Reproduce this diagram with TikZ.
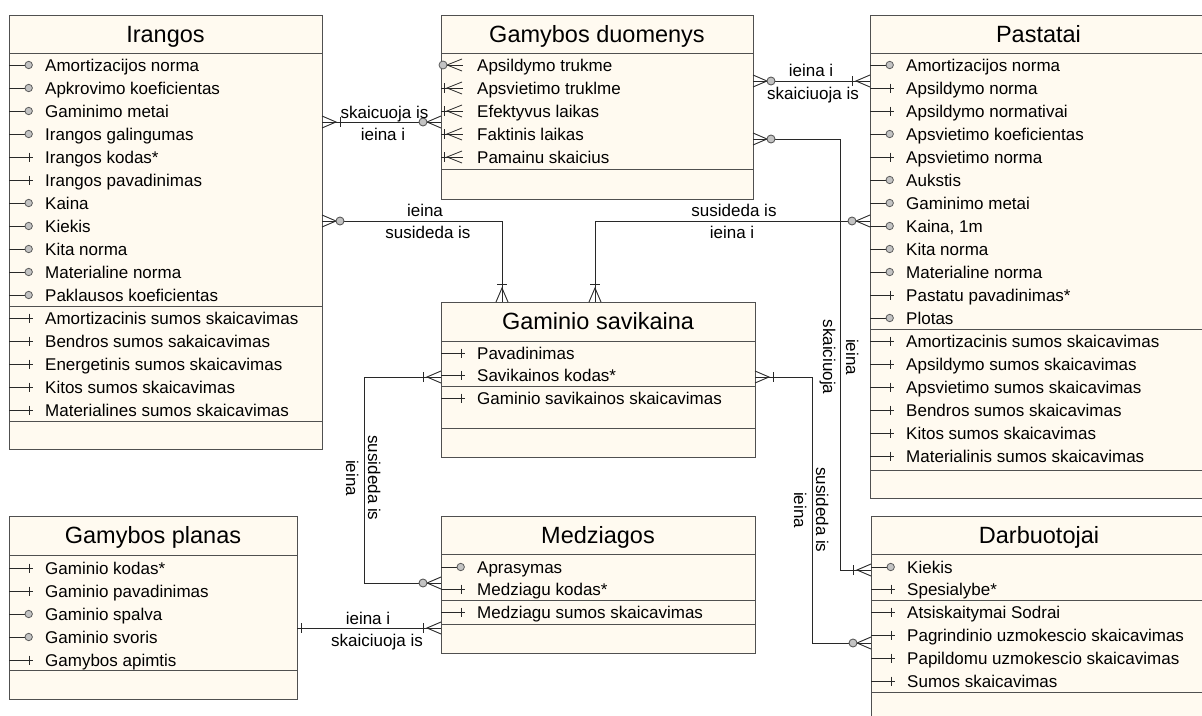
\documentclass[tikz,border=0pt]{standalone}
\usepackage{fontspec}
\setmainfont{Liberation Sans}
\definecolor{cream}{RGB}{255,250,240}
\definecolor{bordc}{RGB}{80,80,80}
\definecolor{circf}{RGB}{195,195,195}
\definecolor{circd}{RGB}{90,90,90}
\definecolor{linec}{RGB}{40,40,40}
\tikzset{
  box/.style={draw=bordc, fill=cream, line width=1pt, rectangle, anchor=north west, inner sep=0pt, outer sep=0pt},
  sepl/.style={draw=bordc, line width=0.9pt},
  ttl/.style={font=\fontsize{23.5}{28}\selectfont, anchor=base, inner sep=0pt},
  attr/.style={font=\fontsize{17}{20}\selectfont, anchor=base west, inner sep=0pt},
  lbl/.style={font=\fontsize{17}{20}\selectfont, anchor=base, inner sep=0pt},
  mk/.style={draw=linec, line width=0.8pt},
  conn/.style={draw=linec, line width=0.9pt},
  crowf/.pic={\draw[conn] (0,-6) -- (14,0) -- (0,6);},
  onebar/.pic={\draw[conn] (18,-5) -- (18,5);},
  nearbar/.pic={\draw[conn] (4.5,-5) -- (4.5,5);},
  zerocirc/.pic={\draw[conn, draw=circd, fill=circf] (18,0) circle[radius=4];}
}
% optional attribute: circle marker
\newcommand\attO[4]{%
  \draw[mk] (#2,#3) -- ++(16,0);
  \draw[mk, draw=circd, fill=circf] ({#2+19.7},#3) circle[radius=3.7];
  \node[attr] (#1) at ({#2+36},{#3+6}) {#4};}
% key / mandatory attribute: bar marker
\newcommand\attK[4]{%
  \draw[mk] (#2,#3) -- ++(24,0);
  \draw[mk] ({#2+20},{#3-4.5}) -- ++(0,9);
  \node[attr] (#1) at ({#2+36},{#3+6}) {#4};}
% circle + crow
\newcommand\attOC[4]{%
  \draw[mk] (#2,#3) -- ++(22,0);
  \draw[mk] ({#2+21},{#3-6}) -- ({#2+6},#3) -- ({#2+21},{#3+6});
  \draw[mk, draw=circd, fill=circf] ({#2+2},#3) circle[radius=4];
  \node[attr] (#1) at ({#2+36},{#3+6}) {#4};}
% bar + crow
\newcommand\attKC[4]{%
  \draw[mk] (#2,#3) -- ++(22,0);
  \draw[mk] ({#2+21},{#3-6}) -- ({#2+6},#3) -- ({#2+21},{#3+6});
  \draw[mk] ({#2+3},{#3-5}) -- ++(0,10);
  \node[attr] (#1) at ({#2+36},{#3+6}) {#4};}
\begin{document}
\begin{tikzpicture}[x=1pt,y=-1pt]
\useasboundingbox (0,0) rectangle (1202,715);
\fill[white] (0,0) rectangle (1202,715);
\clip (0,0) rectangle (1202,715);

% ---------------- Irangos
\node[box, minimum width=313pt, minimum height=434pt] (ir) at (9,15) {};
\node[ttl] (irt) at (165.5,42) {Irangos};
\draw[sepl] (9,53) -- (322,53);
\attO{ir1}{9}{65}{Amortizacijos norma}
\attO{ir2}{9}{88}{Apkrovimo koeficientas}
\attO{ir3}{9}{111}{Gaminimo metai}
\attO{ir4}{9}{134}{Irangos galingumas}
\attK{ir5}{9}{157}{Irangos kodas*}
\attK{ir6}{9}{180}{Irangos pavadinimas}
\attO{ir7}{9}{203}{Kaina}
\attO{ir8}{9}{226}{Kiekis}
\attO{ir9}{9}{249}{Kita norma}
\attO{ir10}{9}{272}{Materialine norma}
\attO{ir11}{9}{295}{Paklausos koeficientas}
\draw[sepl] (9,306) -- (322,306);
\attK{ir12}{9}{318}{Amortizacinis sumos skaicavimas}
\attK{ir13}{9}{341}{Bendros sumos sakaicavimas}
\attK{ir14}{9}{364}{Energetinis sumos skaicavimas}
\attK{ir15}{9}{387}{Kitos sumos skaicavimas}
\attK{ir16}{9}{410}{Materialines sumos skaicavimas}
\draw[sepl] (9,421) -- (322,421);

% ---------------- Gamybos duomenys
\node[box, minimum width=312pt, minimum height=184pt] (gd) at (441,15) {};
\node[ttl] (gdt) at (597,42) {Gamybos duomenys};
\draw[sepl] (441,53) -- (753,53);
\attOC{gd1}{441}{65}{Apsildymo trukme}
\attKC{gd2}{441}{88}{Apsvietimo truklme}
\attKC{gd3}{441}{111}{Efektyvus laikas}
\attKC{gd4}{441}{134}{Faktinis laikas}
\attKC{gd5}{441}{157}{Pamainu skaicius}
\draw[sepl] (441,169) -- (753,169);

% ---------------- Pastatai
\node[box, minimum width=337pt, minimum height=483pt] (pa) at (870,15) {};
\node[ttl] (pat) at (1038.5,42) {Pastatai};
\draw[sepl] (870,53) -- (1207,53);
\attO{pa1}{870}{65}{Amortizacijos norma}
\attK{pa2}{870}{88}{Apsildymo norma}
\attK{pa3}{870}{111}{Apsildymo normativai}
\attO{pa4}{870}{134}{Apsvietimo koeficientas}
\attK{pa5}{870}{157}{Apsvietimo norma}
\attO{pa6}{870}{180}{Aukstis}
\attO{pa7}{870}{203}{Gaminimo metai}
\attO{pa8}{870}{226}{Kaina, 1m}
\attO{pa9}{870}{249}{Kita norma}
\attO{pa10}{870}{272}{Materialine norma}
\attK{pa11}{870}{295}{Pastatu pavadinimas*}
\attO{pa12}{870}{318}{Plotas}
\draw[sepl] (870,329) -- (1207,329);
\attK{pa13}{870}{341}{Amortizacinis sumos skaicavimas}
\attK{pa14}{870}{364}{Apsildymo sumos skaicavimas}
\attK{pa15}{870}{387}{Apsvietimo sumos skaicavimas}
\attK{pa16}{870}{410}{Bendros sumos skaicavimas}
\attK{pa17}{870}{433}{Kitos sumos skaicavimas}
\attK{pa18}{870}{456}{Materialinis sumos skaicavimas}
\draw[sepl] (870,470) -- (1207,470);

% ---------------- Gaminio savikaina
\node[box, minimum width=314pt, minimum height=155pt] (gs) at (441,302) {};
\node[ttl] (gst) at (598,329) {Gaminio savikaina};
\draw[sepl] (441,341) -- (755,341);
\attK{gs1}{441}{353}{Pavadinimas}
\attK{gs2}{441}{375}{Savikainos kodas*}
\draw[sepl] (441,386) -- (755,386);
\attK{gs3}{441}{398}{Gaminio savikainos skaicavimas}
\draw[sepl] (441,428) -- (755,428);

% ---------------- Gamybos planas
\node[box, minimum width=288pt, minimum height=183pt] (gp) at (9,516) {};
\node[ttl] (gpt) at (153,543) {Gamybos planas};
\draw[sepl] (9,555) -- (297,555);
\attK{gp1}{9}{568}{Gaminio kodas*}
\attK{gp2}{9}{591}{Gaminio pavadinimas}
\attO{gp3}{9}{614}{Gaminio spalva}
\attO{gp4}{9}{637}{Gaminio svoris}
\attK{gp5}{9}{660}{Gamybos apimtis}
\draw[sepl] (9,670) -- (297,670);

% ---------------- Medziagos
\node[box, minimum width=314pt, minimum height=137pt] (me) at (441,516) {};
\node[ttl] (met) at (598,543) {Medziagos};
\draw[sepl] (441,554) -- (755,554);
\attO{me1}{441}{567}{Aprasymas}
\attK{me2}{441}{589}{Medziagu kodas*}
\draw[sepl] (441,600) -- (755,600);
\attK{me3}{441}{612}{Medziagu sumos skaicavimas}
\draw[sepl] (441,624) -- (755,624);

% ---------------- Darbuotojai
\node[box, minimum width=336pt, minimum height=214pt] (da) at (871,516) {};
\node[ttl] (dat) at (1039,543) {Darbuotojai};
\draw[sepl] (871,554) -- (1207,554);
\attO{da1}{871}{567}{Kiekis}
\attK{da2}{871}{589}{Spesialybe*}
\draw[sepl] (871,600) -- (1207,600);
\attK{da3}{871}{612}{Atsiskaitymai Sodrai}
\attK{da4}{871}{635}{Pagrindinio uzmokescio skaicavimas}
\attK{da5}{871}{658}{Papildomu uzmokescio skaicavimas}
\attK{da6}{871}{681}{Sumos skaicavimas}
\draw[sepl] (871,692) -- (1207,692);

% ================= connectors
% 1 Irangos -- Gamybos duomenys
\coordinate (c1a) at (322,122);
\coordinate (c1b) at (441,122);
\draw[conn] (c1a) -- (c1b);
\pic at (c1a) {crowf}; \pic at (c1a) {onebar};
\pic[rotate=180] at (c1b) {crowf}; \pic[rotate=180] at (c1b) {zerocirc};
\node[lbl] (l1a) at (384.5,118) {skaicuoja is};
\node[lbl] (l1b) at (383,140) {ieina i};

% 2 Gamybos duomenys -- Pastatai
\coordinate (c2a) at (753,81);
\coordinate (c2b) at (870,81);
\draw[conn] (c2a) -- (c2b);
\pic at (c2a) {crowf}; \pic at (c2a) {zerocirc};
\pic[rotate=180] at (c2b) {crowf}; \pic[rotate=180] at (c2b) {onebar};
\node[lbl] (l2a) at (811,76) {ieina i};
\node[lbl] (l2b) at (813,99) {skaiciuoja is};

% 3 Gamybos duomenys -- Darbuotojai
\coordinate (c3a) at (753,139);
\coordinate (c3b) at (871,570);
\draw[conn] (c3a) -- (840,139) -- (840,570) -- (c3b);
\pic at (c3a) {crowf}; \pic at (c3a) {zerocirc};
\pic[rotate=180] at (c3b) {crowf}; \pic[rotate=180] at (c3b) {onebar};
\node[lbl, rotate=-90] (l3a) at (823,357) {skaiciuoja};
\node[lbl, rotate=-90] (l3b) at (846,357) {ieina};

% 4 Gaminio savikaina -- Darbuotojai
\coordinate (c4a) at (755,377);
\coordinate (c4b) at (871,643);
\draw[conn] (c4a) -- (812,377) -- (812,643) -- (c4b);
\pic at (c4a) {crowf}; \pic at (c4a) {onebar};
\pic[rotate=180] at (c4b) {crowf}; \pic[rotate=180] at (c4b) {zerocirc};
\node[lbl, rotate=-90] (l4a) at (794,510) {ieina};
\node[lbl, rotate=-90] (l4b) at (816,510) {susideda is};

% 5 Irangos -- Gaminio savikaina
\coordinate (c5a) at (322,221);
\coordinate (c5b) at (502,302);
\draw[conn] (c5a) -- (502,221) -- (c5b);
\pic at (c5a) {crowf}; \pic at (c5a) {zerocirc};
\pic[rotate=90] at (c5b) {crowf}; \pic[rotate=90] at (c5b) {onebar};
\node[lbl] (l5a) at (425,216) {ieina};
\node[lbl] (l5b) at (428,238) {susideda is};

% 6 Pastatai -- Gaminio savikaina
\coordinate (c6a) at (870,221);
\coordinate (c6b) at (595,302);
\draw[conn] (c6a) -- (595,221) -- (c6b);
\pic[rotate=180] at (c6a) {crowf}; \pic[rotate=180] at (c6a) {zerocirc};
\pic[rotate=90] at (c6b) {crowf}; \pic[rotate=90] at (c6b) {onebar};
\node[lbl] (l6a) at (734,216) {susideda is};
\node[lbl] (l6b) at (732,238) {ieina i};

% 7 Gaminio savikaina -- Medziagos
\coordinate (c7a) at (441,377);
\coordinate (c7b) at (441,583);
\draw[conn] (c7a) -- (364,377) -- (364,583) -- (c7b);
\pic[rotate=180] at (c7a) {crowf}; \pic[rotate=180] at (c7a) {onebar};
\pic[rotate=180] at (c7b) {crowf}; \pic[rotate=180] at (c7b) {zerocirc};
\node[lbl, rotate=-90] (l7a) at (368,478) {susideda is};
\node[lbl, rotate=-90] (l7b) at (346,478) {ieina};

% 8 Gamybos planas -- Medziagos
\coordinate (c8a) at (297,628);
\coordinate (c8b) at (441,628);
\draw[conn] (c8a) -- (c8b);
\pic at (c8a) {nearbar};
\pic[rotate=180] at (c8b) {crowf}; \pic[rotate=180] at (c8b) {onebar};
\node[lbl] (l8a) at (368,624) {ieina i};
\node[lbl] (l8b) at (377,646) {skaiciuoja is};
\end{tikzpicture}
\end{document}
